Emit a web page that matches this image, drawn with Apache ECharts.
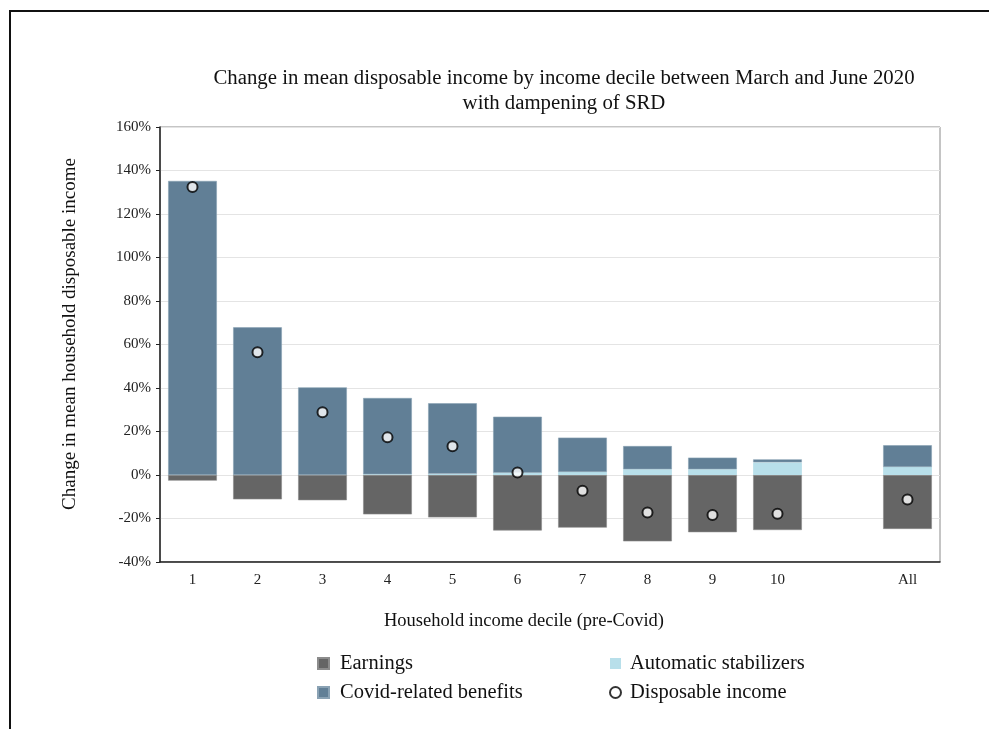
<!DOCTYPE html>
<html>
<head>
<meta charset="utf-8">
<script src="https://cdn.jsdelivr.net/npm/echarts@6/dist/echarts.min.js"></script>
<style>
html,body{margin:0;padding:0;background:#fff;}
#chart{width:989px;height:729px;}
#frame{position:absolute;left:9px;top:10px;width:990px;height:730px;border-left:2px solid #111;border-top:2px solid #111;pointer-events:none;}
</style>
</head>
<body>
<div id="chart"></div>
<div id="frame"></div>
<script>
const categories = ['1','2','3','4','5','6','7','8','9','10','','All'];
const earnings = [-2.6,-11.2,-11.6,-18.1,-19.5,-25.5,-24.2,-30.5,-26.3,-25.3,null,-24.8];
const automaticStabilizers = [0,0,0,0.3,0.5,1.0,1.4,2.6,2.6,5.8,null,3.7];
const covidBenefits = [135.2,67.9,40.3,35.1,32.5,25.8,15.8,10.7,5.4,1.4,null,10.0];
const disposableIncome = [132.4,56.4,28.8,17.3,13.2,1.2,-7.2,-17.2,-18.4,-17.8,null,-11.3];

const FONT = 'Liberation Serif';
const chart = echarts.init(document.getElementById('chart'));
chart.setOption({
  animation: false,
  textStyle: {fontFamily: FONT},
  title: [
    {
      text: 'Change in mean disposable income by income decile between March and June 2020\nwith dampening of SRD',
      left: 559, top: 61, textAlign: 'center',
      textStyle: {fontFamily: FONT, fontSize: 20.8, fontWeight: 'normal', color: '#111', lineHeight: 25}
    },
    {
      text: 'Household income decile (pre-Covid)',
      left: 519, top: 607, textAlign: 'center',
      textStyle: {fontFamily: FONT, fontSize: 18.5, fontWeight: 'normal', color: '#111'}
    }
  ],
  graphic: [
    {
      type: 'text', x: 70, y: 334, rotation: Math.PI / 2,
      style: {text: 'Change in mean household disposable income', fontFamily: FONT, fontSize: 19,
        fill: '#111', textAlign: 'center', textVerticalAlign: 'middle'}
    }
  ],
  grid: {left: 160, right: 49, top: 127, bottom: 167, show: true, borderColor: '#8a8a8a', borderWidth: 1},
  legend: [
    {
      orient: 'vertical', left: 317, top: 653, padding: 0, itemGap: 8, itemWidth: 11, itemHeight: 11,
      data: [{name: 'Earnings', icon: 'rect'}, {name: 'Covid-related benefits', icon: 'rect'}],
      textStyle: {fontFamily: FONT, fontSize: 20.5, color: '#111', padding: [0, 0, 0, 6]}
    },
    {
      orient: 'vertical', left: 609, top: 653, padding: 0, itemGap: 8, itemWidth: 11, itemHeight: 11,
      data: [{name: 'Automatic stabilizers', icon: 'rect'}, {name: 'Disposable income', icon: 'circle'}],
      textStyle: {fontFamily: FONT, fontSize: 20.5, color: '#111', padding: [0, 0, 0, 4]}
    }
  ],
  xAxis: {
    type: 'category', data: categories,
    axisLine: {onZero: false, lineStyle: {color: '#222', width: 1.5}},
    axisTick: {show: false},
    axisLabel: {fontFamily: FONT, fontSize: 15, color: '#222', margin: 11},
    splitLine: {show: false}
  },
  yAxis: {
    type: 'value', min: -40, max: 160, interval: 20,
    axisLine: {show: true, lineStyle: {color: '#222', width: 1.5}},
    axisTick: {show: true, length: 4, lineStyle: {color: '#222'}},
    axisLabel: {fontFamily: FONT, fontSize: 15, color: '#222', margin: 9, formatter: '{value}%'},
    splitLine: {show: true, lineStyle: {color: '#e4e4e4', width: 1}}
  },
  series: [
    {
      name: 'Earnings', type: 'bar', stack: 'total', data: earnings, barWidth: '75%',
      itemStyle: {color: '#656565', borderColor: '#8c8c8c', borderWidth: 0.6}
    },
    {
      name: 'Automatic stabilizers', type: 'bar', stack: 'total', data: automaticStabilizers, barWidth: '75%',
      itemStyle: {color: '#b8dfea'}
    },
    {
      name: 'Covid-related benefits', type: 'bar', stack: 'total', data: covidBenefits, barWidth: '75%',
      itemStyle: {color: '#617f96', borderColor: '#8aa2b4', borderWidth: 0.6}
    },
    {
      name: 'Disposable income', type: 'scatter', data: disposableIncome, symbol: 'circle', symbolSize: 10,
      itemStyle: {color: '#ffffff', borderColor: '#000', borderWidth: 2}, z: 5
    }
  ]
});
</script>
</body>
</html>
